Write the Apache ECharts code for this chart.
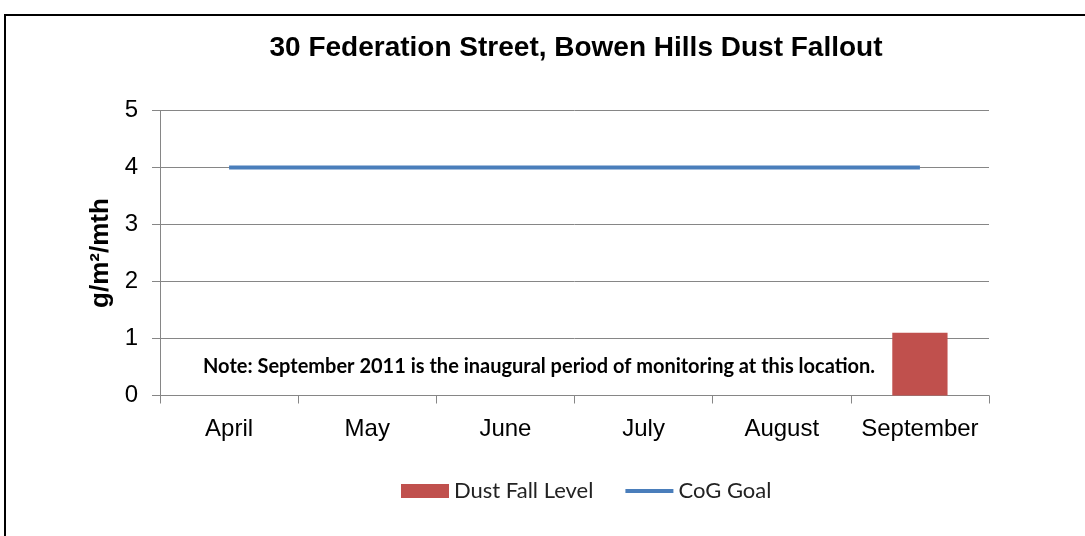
<!DOCTYPE html>
<html><head><meta charset="utf-8">
<script src="https://cdn.jsdelivr.net/npm/echarts@6/dist/echarts.min.js"></script>
<style>html,body{margin:0;padding:0;background:#fff}#c{width:1085px;height:536px}</style>
</head><body><div id="c"></div>
<script>
const categories = ['April','May','June','July','August','September'];
const dustFallLevel = [null, null, null, null, null, 1.1];
const cogGoal = [4, 4, 4, 4, 4, 4];
const yTicks = [0, 1, 2, 3, 4, 5];
const titleText = '30 Federation Street, Bowen Hills Dust Fallout';
const noteText = 'Note: September 2011 is the inaugural period of monitoring at this location.';

const chart = echarts.init(document.getElementById('c'));
chart.setOption({
  animation: false,
  backgroundColor: '#fff',
  title: {
    text: titleText, left: 571, top: 29, textAlign: 'center',
    textStyle: { fontFamily: 'Liberation Sans, Arial', fontWeight: 'bold', fontSize: 28, color: '#000' }
  },
  grid: { left: 160, right: 96, top: 110.5, bottom: 140.5 },
  legend: {
    top: 475, left: 396, itemWidth: 48, itemHeight: 14, itemGap: 30, itemTextGap: 7,
    textStyle: { fontFamily: 'Lato', fontSize: 22, color: '#222' },
    data: [
      { name: 'Dust Fall Level', icon: 'rect' },
      { name: 'CoG Goal', itemStyle: { opacity: 0 }, lineStyle: { width: 4, color: '#4a7ebb' } }
    ]
  },
  xAxis: {
    type: 'category', data: categories, boundaryGap: true,
    axisLine: { lineStyle: { color: '#868686', width: 1 } },
    axisTick: { show: true, length: 8, alignWithLabel: false, lineStyle: { color: '#868686' } },
    axisLabel: { interval: 0, margin: 22, fontFamily: 'Liberation Sans, Arial', fontSize: 24, color: '#000' }
  },
  yAxis: {
    type: 'value', min: 0, max: 5, interval: 1,
    name: 'g/m²/mth', nameLocation: 'middle', nameGap: 46,
    nameTextStyle: { fontFamily: 'Liberation Sans, Arial', fontWeight: 'bold', fontSize: 26, color: '#000' },
    axisLine: { show: true, lineStyle: { color: '#868686', width: 1 } },
    axisTick: { show: true, length: 8, lineStyle: { color: '#868686' } },
    splitLine: { lineStyle: { color: '#868686', width: 1 } },
    axisLabel: { margin: 22, fontFamily: 'Liberation Sans, Arial', fontSize: 24, color: '#000',
      formatter: v => yTicks.includes(v) ? String(v) : '' }
  },
  series: [
    { name: 'Dust Fall Level', type: 'bar', data: dustFallLevel, barWidth: '40%',
      itemStyle: { color: '#c0504d' } },
    { name: 'CoG Goal', type: 'line', data: cogGoal, symbol: 'none',
      lineStyle: { color: '#4a7ebb', width: 4 }, itemStyle: { color: '#4a7ebb' } }
  ],
  graphic: [
    { type: 'rect', shape: { x: 5, y: 15, width: 1100, height: 600 }, z: 100,
      style: { fill: null, stroke: '#000', lineWidth: 2 } },
    { type: 'text', left: 203, top: 357, z: 100,
      style: { text: noteText, fontFamily: 'Lato', fontWeight: 'bold', fontSize: 20, fill: '#000' } }
  ]
});
</script></body></html>
